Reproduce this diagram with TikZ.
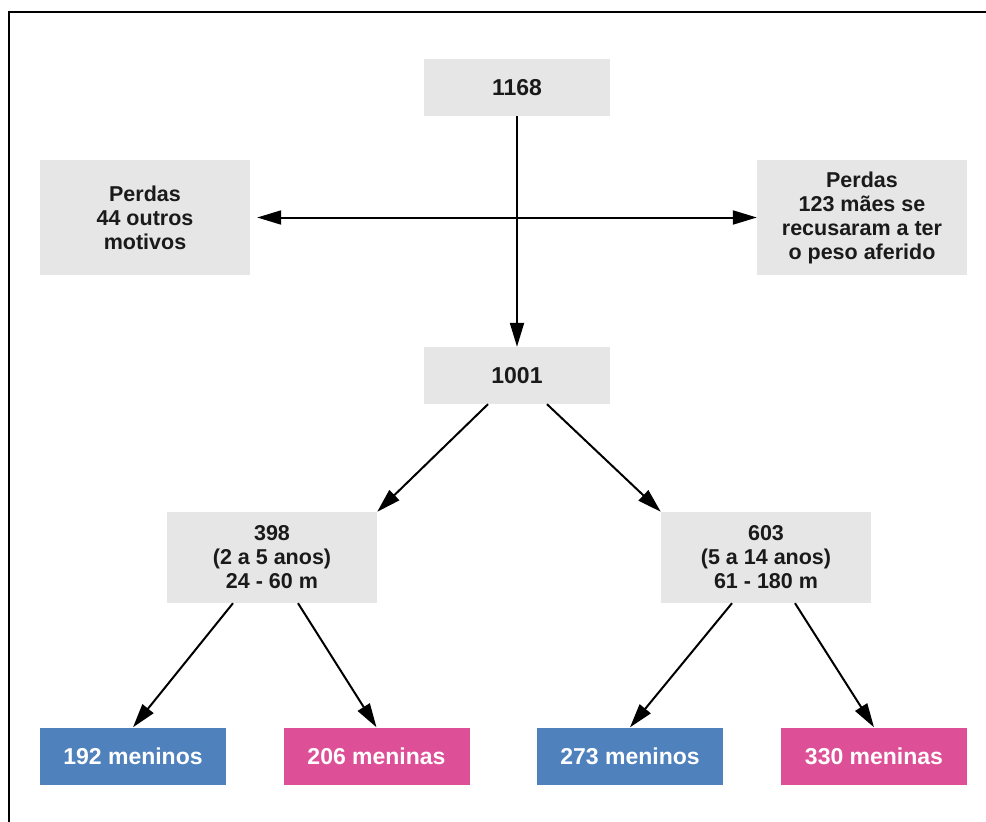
\documentclass[tikz,border=0pt]{standalone}
\usepackage{fontspec}
\setmainfont{Liberation Sans}
\usetikzlibrary{arrows.meta}
\definecolor{boxgray}{HTML}{E6E6E6}
\definecolor{boyblue}{HTML}{4F81BD}
\definecolor{girlpink}{HTML}{DD4F96}
\definecolor{txtdark}{HTML}{1A1A1A}
\begin{document}
\begin{tikzpicture}[x=1pt,y=-1pt,
  graybox/.style={rectangle, fill=boxgray, inner sep=0pt, align=center,
    text=txtdark, font=\bfseries\fontsize{21.5}{24}\selectfont},
  single/.style={font=\bfseries\fontsize{23}{26}\selectfont},
  colbox/.style={rectangle, inner sep=0pt, minimum width=186pt, minimum height=57pt,
    text=white, font=\bfseries\fontsize{23}{26}\selectfont},
  boybox/.style={colbox, fill=boyblue},
  girlbox/.style={colbox, fill=girlpink},
  arr/.style={line width=2pt, -{Triangle[length=24pt,width=14pt]}}]
\useasboundingbox (0,0) rectangle (986,822);
\fill[white] (0,0) rectangle (986,822);
\draw[line width=2pt] (9,822) |- (986,12);

\node[graybox, single, minimum width=186pt, minimum height=57pt] (n1168) at (517,87.5) {1168};
\node[graybox, minimum width=210pt, minimum height=115pt] (pl) at (145,217.5) {Perdas\\44 outros\\motivos};
\node[graybox, minimum width=210pt, minimum height=115pt] (pr) at (862,217.5) {Perdas\\123 mães se\\recusaram a ter\\o peso aferido};
\node[graybox, single, minimum width=186pt, minimum height=57pt] (n1001) at (517,375.5) {1001};
\node[graybox, minimum width=210pt, minimum height=91pt] (n398) at (272,557.5) {398\\(2 a 5 anos)\\24 - 60 m};
\node[graybox, minimum width=210pt, minimum height=91pt] (n603) at (766,557.5) {603\\(5 a 14 anos)\\61 - 180 m};
\node[boybox] (b192) at (133,756) {192 meninos};
\node[girlbox] (g206) at (376.5,756) {206 meninas};
\node[boybox] (b273) at (630,756) {273 meninos};
\node[girlbox] (g330) at (874,756) {330 meninas};

\coordinate (cross) at (517,217.5);
\draw[arr] (n1168.south) -- (n1001.north);
\draw[arr, shorten >=7pt] (cross) -- (pl.east);
\draw[arr] (cross) -- (pr.west);
\draw[arr] ([xshift=-29pt]n1001.south) -- (n398.north east);
\draw[arr] ([xshift=30pt]n1001.south) -- (n603.north west);
\draw[arr] ([xshift=-39pt]n398.south) -- (b192.north);
\draw[arr] ([xshift=26pt]n398.south) -- (g206.north);
\draw[arr] ([xshift=-34pt]n603.south) -- (b273.north);
\draw[arr] ([xshift=29pt]n603.south) -- (g330.north);
\end{tikzpicture}
\end{document}
